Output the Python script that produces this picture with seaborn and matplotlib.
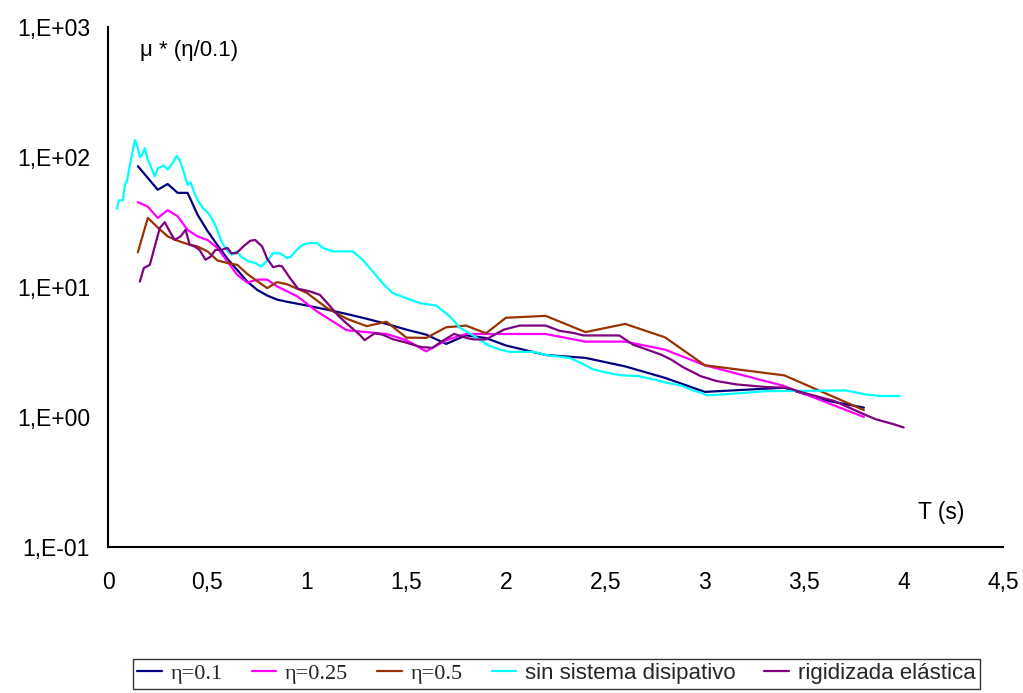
import matplotlib
matplotlib.use("Agg")
import matplotlib.pyplot as plt
import matplotlib.ticker as mticker
from matplotlib.lines import Line2D
import numpy as np
import pandas as pd
import seaborn as sns

# Period T (s) and response mu*(eta/0.1) for each configuration
t_eta010 = [0.15, 0.20, 0.25, 0.30, 0.35, 0.40, 0.45, 0.50, 0.55, 0.60, 0.65, 0.70, 0.75,
            0.80, 0.85, 0.90, 1.00, 1.10, 1.20, 1.30, 1.40, 1.50, 1.60, 1.70, 1.80, 1.90,
            2.00, 2.20, 2.40, 2.60, 2.80, 3.00, 3.40, 3.60, 3.80]
mu_eta010 = [85, 69, 56, 62, 53, 53, 36, 27, 21, 16.5, 13.5, 11, 9.5,
             8.6, 8.0, 7.7, 7.2, 6.7, 6.2, 5.7, 5.2, 4.7, 4.3, 3.65, 4.25, 4.05,
             3.55, 3.0, 2.85, 2.45, 2.0, 1.56, 1.68, 1.35, 1.18]

t_eta025 = [0.15, 0.20, 0.25, 0.30, 0.35, 0.40, 0.45, 0.50, 0.55, 0.60, 0.65, 0.70, 0.75,
            0.80, 0.85, 0.95, 1.05, 1.20, 1.40, 1.50, 1.60, 1.70, 1.80, 2.20, 2.40, 2.60,
            2.80, 3.00, 3.40, 3.80]
mu_eta025 = [45, 41.5, 34, 39, 35, 27.5, 24.5, 23, 20, 15.7, 12.4, 10.8, 11.4,
             11.4, 10.1, 8.5, 6.5, 4.65, 4.35, 3.9, 3.2, 3.9, 4.35, 4.35, 3.8, 3.8,
             3.3, 2.5, 1.73, 1.0]

t_eta050 = [0.15, 0.20, 0.25, 0.30, 0.35, 0.40, 0.45, 0.50, 0.55, 0.60, 0.65, 0.70, 0.75,
            0.80, 0.85, 0.90, 1.00, 1.10, 1.20, 1.30, 1.40, 1.50, 1.60, 1.70, 1.80, 1.90,
            2.00, 2.20, 2.40, 2.60, 2.80, 3.00, 3.40, 3.80]
mu_eta050 = [18.5, 34, 28.7, 24.5, 22.7, 21.4, 20.5, 18.8, 16, 15.3, 14.8, 12.6, 11.1,
             9.8, 10.9, 10.5, 9.0, 6.9, 5.7, 5.0, 5.4, 4.08, 4.06, 4.9, 5.05, 4.4,
             5.8, 6.0, 4.5, 5.2, 4.1, 2.5, 2.09, 1.13]

t_sin = [0.045, 0.055, 0.075, 0.085, 0.095, 0.11, 0.135, 0.145, 0.16, 0.17, 0.185, 0.20,
         0.21, 0.235, 0.25, 0.28, 0.30, 0.325, 0.345, 0.36, 0.38, 0.40, 0.415, 0.435,
         0.455, 0.48, 0.50, 0.52, 0.545, 0.57, 0.595, 0.62, 0.645, 0.67, 0.705, 0.74,
         0.77, 0.805, 0.83, 0.865, 0.90, 0.92, 0.95, 0.98, 1.02, 1.05, 1.08, 1.13, 1.23,
         1.28, 1.33, 1.38, 1.43, 1.50, 1.57, 1.65, 1.72, 1.77, 1.84, 1.91, 1.97, 2.02,
         2.14, 2.20, 2.32, 2.38, 2.44, 2.51, 2.57, 2.67, 2.74, 2.81, 2.88, 2.94, 2.98,
         3.01, 3.09, 3.31, 3.71, 3.81, 3.88, 3.98]
mu_sin = [40, 46.5, 46.5, 62, 65, 87, 135, 125, 100, 103, 117, 95,
          88, 71, 82, 86, 80, 90, 102, 95, 77, 61, 64, 52.5,
          45.5, 40, 37.6, 34, 28.7, 22.4, 19.4, 17.7, 18.8, 17.1, 15.8, 15.3,
          14.4, 16.2, 18.2, 18.2, 16.7, 17.1, 19.4, 21.2, 21.8, 21.8, 20, 18.8, 18.8,
          16.2, 13.2, 10.7, 9.0, 8.2, 7.5, 7.2, 5.9, 4.85, 4.2, 3.57, 3.3, 3.17,
          3.17, 3.0, 2.85, 2.6, 2.32, 2.19, 2.1, 2.06, 1.95, 1.83, 1.75, 1.6, 1.54,
          1.47, 1.49, 1.58, 1.6, 1.49, 1.45, 1.45]

t_rig = [0.16, 0.18, 0.21, 0.235, 0.26, 0.285, 0.31, 0.335, 0.365, 0.39, 0.41, 0.435,
         0.46, 0.49, 0.515, 0.54, 0.57, 0.60, 0.62, 0.645, 0.68, 0.715, 0.74, 0.775,
         0.80, 0.83, 0.86, 0.875, 0.915, 0.955, 1.015, 1.065, 1.11, 1.16, 1.215, 1.265,
         1.29, 1.34, 1.38, 1.435, 1.49, 1.57, 1.63, 1.685, 1.74, 1.80, 1.84, 1.90, 1.99,
         2.07, 2.20, 2.27, 2.34, 2.39, 2.57, 2.64, 2.78, 2.83, 2.89, 2.98, 3.06, 3.16,
         3.31, 3.41, 3.48, 3.65, 3.80, 3.86, 3.95, 4.00]
mu_rig = [11.0, 14.0, 14.8, 20.5, 28.4, 31.5, 26.8, 23, 24.5, 27.6, 21.2, 20.5,
          19.3, 16.2, 17.1, 19.3, 19.3, 20, 18.2, 18.2, 20.5, 22.7, 23, 20.5,
          16.5, 14.2, 14.6, 14.4, 11.7, 9.7, 9.25, 8.7, 7.3, 5.95, 5.0, 4.3,
          3.9, 4.4, 4.3, 3.95, 3.77, 3.46, 3.4, 3.88, 4.36, 4.06, 3.95, 3.95, 4.7,
          5.05, 5.05, 4.6, 4.43, 4.24, 4.24, 3.6, 3.02, 2.77, 2.42, 2.06, 1.89, 1.78,
          1.7, 1.68, 1.56, 1.33, 1.05, 0.96, 0.88, 0.83]

series_names = ["η=0.1", "η=0.25", "η=0.5", "sin sistema disipativo", "rigidizada elástica"]
series_colors = ["#000080", "#FF00FF", "#993300", "#00FFFF", "#800080"]
series_t = [t_eta010, t_eta025, t_eta050, t_sin, t_rig]
series_mu = [mu_eta010, mu_eta025, mu_eta050, mu_sin, mu_rig]

df = pd.concat(
    [pd.DataFrame({"T": t, "mu": m, "serie": n})
     for t, m, n in zip(series_t, series_mu, series_names)],
    ignore_index=True,
)

sns.set_theme(style="white")
plt.rcParams["font.family"] = ["Liberation Sans", "DejaVu Sans"]

fig = plt.figure(figsize=(10.23, 6.93), dpi=100)
ax = fig.add_axes([0.1056, 0.2107, 0.8750, 0.7503])

sns.lineplot(data=df, x="T", y="mu", hue="serie", hue_order=series_names,
             palette=series_colors, sort=False, estimator=None, lw=1.6,
             legend=False, ax=ax)

ax.set_yscale("log")
ax.set_ylim(0.1, 1000)
ax.set_xlim(0, 4.5)
ax.set_xticks(np.arange(0, 4.51, 0.5))
ax.xaxis.set_major_formatter(
    mticker.FuncFormatter(lambda v, p: f"{v:g}".replace(".", ",")))
ax.set_yticks([0.1, 1, 10, 100, 1000])
ax.yaxis.set_major_formatter(
    mticker.FuncFormatter(lambda v, p: "1,E{:+03d}".format(int(round(np.log10(v))))))
ax.yaxis.set_minor_locator(mticker.NullLocator())
ax.set_xlabel("")
ax.set_ylabel("")

for side in ["top", "right"]:
    ax.spines[side].set_visible(False)
for side in ["left", "bottom"]:
    ax.spines[side].set_color("black")
    ax.spines[side].set_linewidth(1.5)
ax.tick_params(axis="both", which="major", direction="out", length=6, width=1.3,
               color="black", labelsize=16.5, labelcolor="black", pad=7)
ax.tick_params(axis="x", pad=11)

ax.text(0.036, 0.955, "μ * (η/0.1)", transform=ax.transAxes, fontsize=16,
        ha="left", va="center", color="black")
ax.text(0.905, 0.067, "T (s)", transform=ax.transAxes, fontsize=16.5,
        ha="left", va="center", color="black")

handles = [Line2D([0], [0], color=c, lw=1.6) for c in series_colors]
leg = fig.legend(handles, series_names, loc="center", bbox_to_anchor=(0.544, 0.028),
                 ncol=5, frameon=True, fancybox=False, handlelength=1.1,
                 handletextpad=0.4, columnspacing=1.3, borderpad=0.2,
                 fontsize=16)
leg.get_frame().set_edgecolor("black")
leg.get_frame().set_linewidth(1.0)
for txt in leg.get_texts()[:3]:
    txt.set_family(["Liberation Serif", "DejaVu Serif"])

fig.savefig("out.png", dpi=100, facecolor="white")
